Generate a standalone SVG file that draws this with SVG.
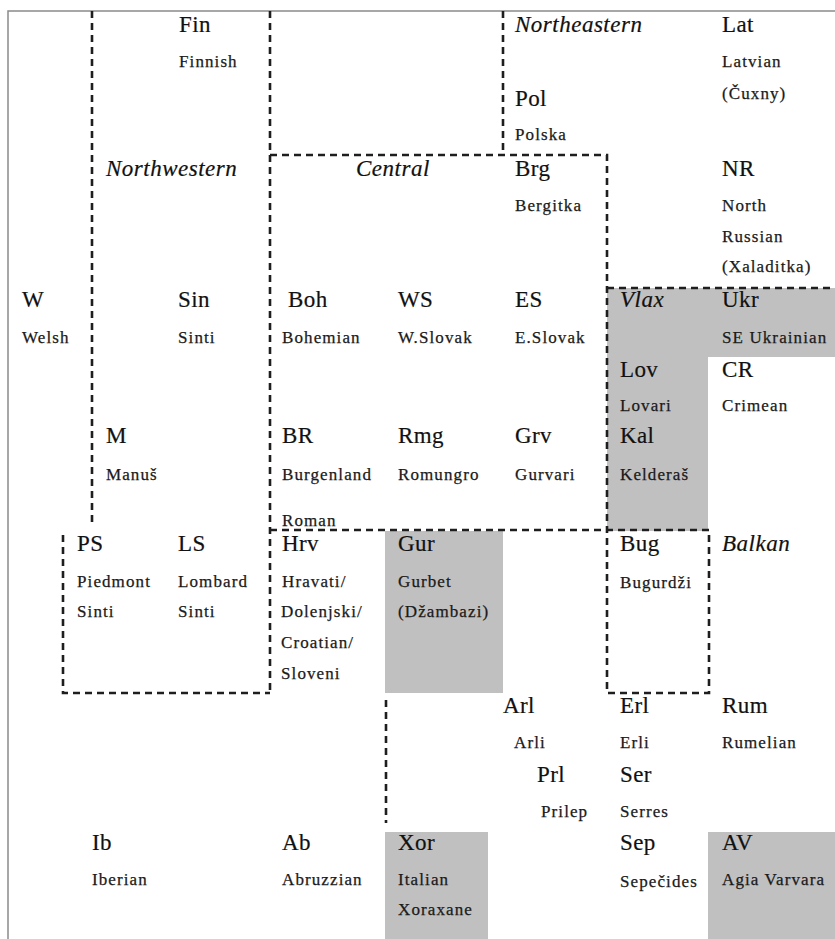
<svg xmlns="http://www.w3.org/2000/svg" width="835" height="939" viewBox="0 0 835 939">
  <style>
    .ab { font-family: "Liberation Serif", "Times New Roman", serif; font-size: 23px; letter-spacing: 0.4px; fill: #111; stroke: #111; stroke-width: 0.2px; }
    .nm { font-family: "Liberation Serif", "Times New Roman", serif; font-size: 17px; letter-spacing: 1.1px; fill: #1a1a1a; stroke: #1a1a1a; stroke-width: 0.25px; }
    .rg { font-family: "Liberation Serif", "Times New Roman", serif; font-size: 23px; font-style: italic; letter-spacing: 0.5px; fill: #111; stroke: #111; stroke-width: 0.2px; }
    .shade { fill: #c0c0c0; }
    .frame { fill: none; stroke: #8a8a8a; stroke-width: 1.5; }
    .dash { fill: none; stroke: #1e1e1e; stroke-width: 2.6; stroke-dasharray: 7 5; }
  </style>
  <rect width="835" height="939" fill="#ffffff"/>

  <!-- shaded dialect clusters -->
  <g id="shading">
    <polygon class="shade" points="607,288 835,288 835,357 708,357 708,531 607,531"/>
    <rect class="shade" x="385" y="531" width="118" height="162"/>
    <rect class="shade" x="385" y="832" width="103" height="107"/>
    <rect class="shade" x="708" y="832" width="127" height="107"/>
  </g>

  <!-- outer frame (top and left) -->
  <path class="frame" d="M835 11 H8 V939"/>

  <!-- dashed region boundaries -->
  <g id="connectors">
    <path class="dash" d="M92 11 V527"/>
    <path class="dash" d="M63 535 V693 H270"/>
    <path class="dash" d="M270 11 V693"/>
    <path class="dash" d="M503 11 V155"/>
    <path class="dash" d="M270 155 H607 V693"/>
    <path class="dash" d="M270 530 H709 V693 H607"/>
    <path class="dash" d="M607 288 H835"/>
    <path class="dash" d="M386 700 V823"/>
  </g>

  <!-- region labels -->
  <g id="region-northwestern"><text class="rg" x="106" y="176">Northwestern</text></g>
  <g id="region-central"><text class="rg" x="356" y="176">Central</text></g>
  <g id="region-northeastern"><text class="rg" x="515" y="32">Northeastern</text></g>
  <g id="region-vlax"><text class="rg" x="620" y="307">Vlax</text></g>
  <g id="region-balkan"><text class="rg" x="722" y="551">Balkan</text></g>

  <!-- dialects -->
  <g id="n-w"><text class="ab" x="22" y="307">W</text><text class="nm" x="22" y="343">Welsh</text></g>
  <g id="n-fin"><text class="ab" x="179" y="32">Fin</text><text class="nm" x="179" y="67">Finnish</text></g>
  <g id="n-sin"><text class="ab" x="178" y="307">Sin</text><text class="nm" x="178" y="343">Sinti</text></g>
  <g id="n-m"><text class="ab" x="106" y="443">M</text><text class="nm" x="106" y="480">Manuš</text></g>
  <g id="n-ps"><text class="ab" x="77" y="551">PS</text><text class="nm" x="77" y="587">Piedmont</text><text class="nm" x="77" y="617">Sinti</text></g>
  <g id="n-ls"><text class="ab" x="178" y="551">LS</text><text class="nm" x="178" y="587">Lombard</text><text class="nm" x="178" y="617">Sinti</text></g>

  <g id="n-boh"><text class="ab" x="288" y="307">Boh</text><text class="nm" x="282" y="343">Bohemian</text></g>
  <g id="n-ws"><text class="ab" x="398" y="307">WS</text><text class="nm" x="398" y="343">W.Slovak</text></g>
  <g id="n-es"><text class="ab" x="515" y="307">ES</text><text class="nm" x="515" y="343">E.Slovak</text></g>
  <g id="n-br"><text class="ab" x="282" y="443">BR</text><text class="nm" x="282" y="480">Burgenland</text><text class="nm" x="282" y="526">Roman</text></g>
  <g id="n-rmg"><text class="ab" x="398" y="443">Rmg</text><text class="nm" x="398" y="480">Romungro</text></g>
  <g id="n-grv"><text class="ab" x="515" y="443">Grv</text><text class="nm" x="515" y="480">Gurvari</text></g>
  <g id="n-hrv"><text class="ab" x="282" y="551">Hrv</text><text class="nm" x="282" y="587">Hravati/</text><text class="nm" x="281" y="617">Dolenjski/</text><text class="nm" x="281" y="648">Croatian/</text><text class="nm" x="281" y="679">Sloveni</text></g>
  <g id="n-gur"><text class="ab" x="398" y="551">Gur</text><text class="nm" x="398" y="587">Gurbet</text><text class="nm" x="398" y="617">(Džambazi)</text></g>

  <g id="n-pol"><text class="ab" x="515" y="106">Pol</text><text class="nm" x="515" y="140">Polska</text></g>
  <g id="n-brg"><text class="ab" x="515" y="176">Brg</text><text class="nm" x="515" y="211">Bergitka</text></g>
  <g id="n-lat"><text class="ab" x="722" y="32">Lat</text><text class="nm" x="722" y="67">Latvian</text><text class="nm" x="722" y="99">(Čuxny)</text></g>
  <g id="n-nr"><text class="ab" x="722" y="176">NR</text><text class="nm" x="722" y="211">North</text><text class="nm" x="722" y="242">Russian</text><text class="nm" x="722" y="272">(Xaladitka)</text></g>

  <g id="n-ukr"><text class="ab" x="722" y="307">Ukr</text><text class="nm" x="722" y="343">SE Ukrainian</text></g>
  <g id="n-lov"><text class="ab" x="620" y="377">Lov</text><text class="nm" x="620" y="411">Lovari</text></g>
  <g id="n-cr"><text class="ab" x="722" y="377">CR</text><text class="nm" x="722" y="411">Crimean</text></g>
  <g id="n-kal"><text class="ab" x="620" y="443">Kal</text><text class="nm" x="620" y="480">Kelderaš</text></g>

  <g id="n-bug"><text class="ab" x="620" y="551">Bug</text><text class="nm" x="620" y="588">Bugurdži</text></g>
  <g id="n-arl"><text class="ab" x="503" y="713">Arl</text><text class="nm" x="514" y="748">Arli</text></g>
  <g id="n-prl"><text class="ab" x="537" y="782">Prl</text><text class="nm" x="541" y="817">Prilep</text></g>
  <g id="n-erl"><text class="ab" x="620" y="713">Erl</text><text class="nm" x="620" y="748">Erli</text></g>
  <g id="n-ser"><text class="ab" x="620" y="782">Ser</text><text class="nm" x="620" y="817">Serres</text></g>
  <g id="n-sep"><text class="ab" x="620" y="850">Sep</text><text class="nm" x="620" y="887">Sepečides</text></g>
  <g id="n-rum"><text class="ab" x="722" y="713">Rum</text><text class="nm" x="722" y="748">Rumelian</text></g>
  <g id="n-av"><text class="ab" x="722" y="850">AV</text><text class="nm" x="722" y="885">Agia Varvara</text></g>

  <g id="n-ib"><text class="ab" x="92" y="850">Ib</text><text class="nm" x="92" y="885">Iberian</text></g>
  <g id="n-ab"><text class="ab" x="282" y="850">Ab</text><text class="nm" x="282" y="885">Abruzzian</text></g>
  <g id="n-xor"><text class="ab" x="398" y="850">Xor</text><text class="nm" x="398" y="885">Italian</text><text class="nm" x="398" y="915">Xoraxane</text></g>
</svg>
